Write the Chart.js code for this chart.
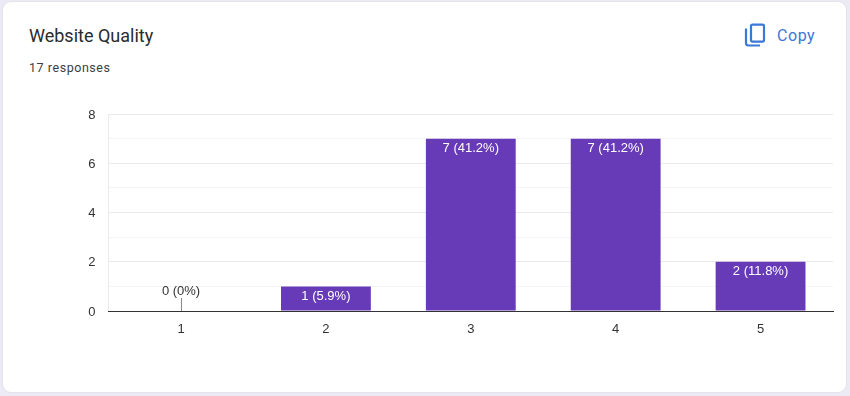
<!DOCTYPE html>
<html>
<head>
<meta charset="utf-8">
<title>Website Quality</title>
<script src="https://cdn.jsdelivr.net/npm/chart.js@4"></script>
<style>
  html, body { margin: 0; padding: 0; background: #eceaf4; }
  body { width: 850px; height: 396px; overflow: hidden; position: relative; }
  .card {
    position: absolute; left: 2px; top: 1px; width: 843px; height: 390px;
    background: #fff; border: 1px solid #e3e3ea; border-radius: 9px;
  }
  .title { position: absolute; left: 29px; top: 25px; font: 400 18px Roboto, sans-serif; color: #2a2b2e; }
  .sub { position: absolute; left: 29px; top: 60px; font: 400 12.5px Roboto, sans-serif; letter-spacing: .55px; color: #3c3d40; }
  .copy { position: absolute; left: 777px; top: 26px; font: 400 16px Roboto, sans-serif; letter-spacing: .55px; color: #3b78d8; }
  .icon { position: absolute; left: 744px; top: 23px; }
  canvas { position: absolute; left: 0; top: 0; }
</style>
</head>
<body>
<div class="card"></div>
<div class="title">Website Quality</div>
<div class="sub">17 responses</div>
<svg class="icon" width="22" height="24" viewBox="0 0 22 24" fill="none" stroke="#3b78d8" stroke-width="2.2">
  <path d="M2 5.5V20a2.5 2.5 0 0 0 2.5 2.5H16"/>
  <rect x="7" y="1.6" width="13" height="17" rx="1.5"/>
</svg>
<div class="copy">Copy</div>
<canvas id="chart" width="850" height="396"></canvas>
<script>
const categories = ['1', '2', '3', '4', '5'];
const counts = [0, 1, 7, 7, 2];
const barLabels = ['0 (0%)', '1 (5.9%)', '7 (41.2%)', '7 (41.2%)', '2 (11.8%)'];
const fontFamily = '"Liberation Sans", Arial, sans-serif';

// counts on top of each bar, zero bars get a small leader line
const barLabelPlugin = {
  id: 'barLabels',
  afterDatasetsDraw(chart) {
    const { ctx } = chart;
    const meta = chart.getDatasetMeta(0);
    ctx.save();
    ctx.font = '13px ' + fontFamily;
    ctx.textAlign = 'center';
    ctx.textBaseline = 'middle';
    meta.data.forEach((bar, i) => {
      if (counts[i] === 0) {
        ctx.strokeStyle = '#8a8a8a';
        ctx.beginPath();
        ctx.moveTo(Math.round(bar.x) + 0.5, bar.y);
        ctx.lineTo(Math.round(bar.x) + 0.5, bar.y - 13);
        ctx.stroke();
        ctx.fillStyle = '#333';
        ctx.fillText(barLabels[i], bar.x, bar.y - 20);
      } else {
        ctx.fillStyle = '#fff';
        ctx.fillText(barLabels[i], bar.x, bar.y + 10);
      }
    });
    ctx.restore();
  },
};

new Chart(document.getElementById('chart').getContext('2d'), {
  type: 'bar',
  data: {
    labels: categories,
    datasets: [{
      data: counts,
      backgroundColor: '#673ab7',
      barPercentage: 0.62,
      categoryPercentage: 1,
    }],
  },
  options: {
    responsive: false,
    animation: false,
    layout: { padding: { top: 114, right: 17 } },
    plugins: { legend: { display: false }, tooltip: { enabled: false } },
    scales: {
      x: {
        afterFit: (scale) => { scale.height = 85; },
        border: { color: '#333', width: 1 },
        grid: {
          drawTicks: false,
          color: (c) => (c.index === 0 || c.index === categories.length ? '#eaeaea' : 'transparent'),
        },
        ticks: { color: '#333', padding: 11, font: { family: fontFamily, size: 13 } },
      },
      y: {
        min: 0,
        max: 8,
        afterFit: (scale) => { scale.width = 108.6; },
        border: { display: false },
        grid: {
          drawTicks: false,
          color: (c) => (c.tick.value % 2 === 0 ? '#eaeaea' : '#f5f5f5'),
        },
        ticks: {
          stepSize: 1,
          autoSkip: false,
          color: '#333',
          padding: 13,
          labelOffset: 1,
          font: { family: fontFamily, size: 13 },
          callback: (v) => (v % 2 === 0 ? v : ''),
        },
      },
    },
  },
  plugins: [barLabelPlugin],
});
</script>
</body>
</html>
